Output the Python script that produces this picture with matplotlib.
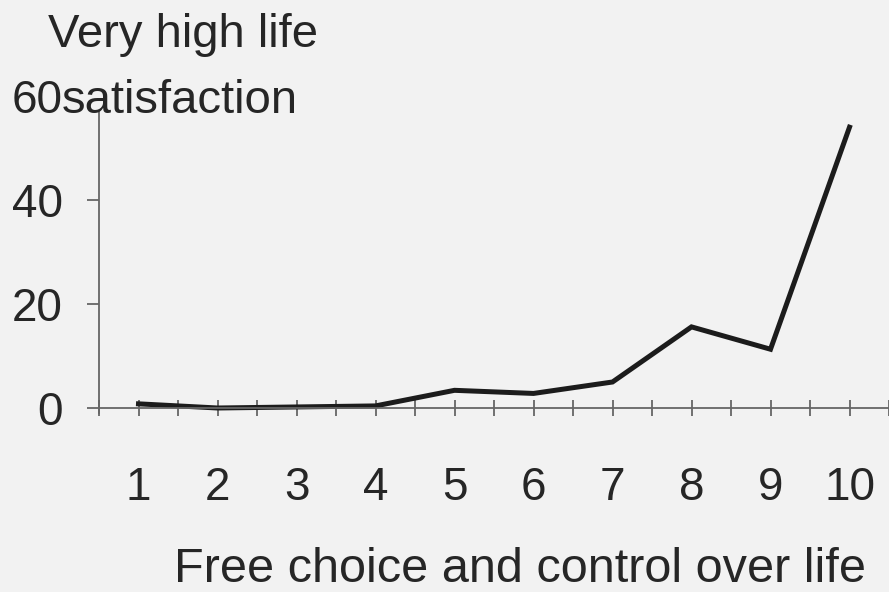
import matplotlib
matplotlib.use('Agg')
import matplotlib.pyplot as plt
import matplotlib.transforms as mtransforms

# values
choice = [1, 2, 3, 4, 5, 6, 7, 8, 9, 10]
satisfaction = [0.8, 0.0, 0.2, 0.4, 3.4, 2.8, 5.0, 15.6, 11.3, 54.0]
y_ticks = [0, 20, 40, 60]

plt.rcParams['font.family'] = ['Liberation Sans', 'DejaVu Sans']

fig = plt.figure(figsize=(8.89, 5.92), dpi=100, facecolor='#f2f2f2')
ax = fig.add_axes([99 / 889, 184 / 592, 790 / 889, 312 / 592])
ax.set_facecolor('none')

ax.plot(choice, satisfaction, color='#1c1c1c', lw=3.6, solid_joinstyle='miter', clip_on=False)

ax.set_xlim(0.5, 10.42)
ax.set_ylim(0, 60)

for s in ['top', 'right']:
    ax.spines[s].set_visible(False)
ax.spines['bottom'].set_position(('data', 0))
ax.spines['left'].set_bounds(-1, 57)
for s in ['bottom', 'left']:
    ax.spines[s].set_color('#666666')
    ax.spines[s].set_linewidth(1.3)

ax.set_xticks(choice)
ax.set_xticks([c - 0.5 for c in choice] + [10.5], minor=True)
ax.tick_params(axis='x', which='both', direction='inout', length=12, width=1.3,
               color='#666666', labelsize=33, pad=36, labelcolor='#262626')
ax.set_yticks(y_ticks)
ax.tick_params(axis='y', direction='out', length=9, width=1.3, color='#666666',
               labelsize=33, pad=17, labelcolor='#262626')
ax.yaxis.get_major_ticks()[-1].tick1line.set_visible(False)

# y label sits right after the "60" tick label
trans = mtransforms.blended_transform_factory(ax.transAxes, ax.transData)
ax.text(-0.047, 60, 'satisfaction', transform=trans, ha='left', va='center_baseline',
        fontsize=34, color='#262626', clip_on=False)
fig.text(48 / 889, (592 - 47) / 592, 'Very high life', ha='left', va='baseline',
         fontsize=34, color='#262626')

fig.text(520 / 889, 10 / 592, 'Free choice and control over life', ha='center', va='baseline',
         fontsize=35, color='#262626')

plt.savefig('out.png', dpi=100, facecolor=fig.get_facecolor())
